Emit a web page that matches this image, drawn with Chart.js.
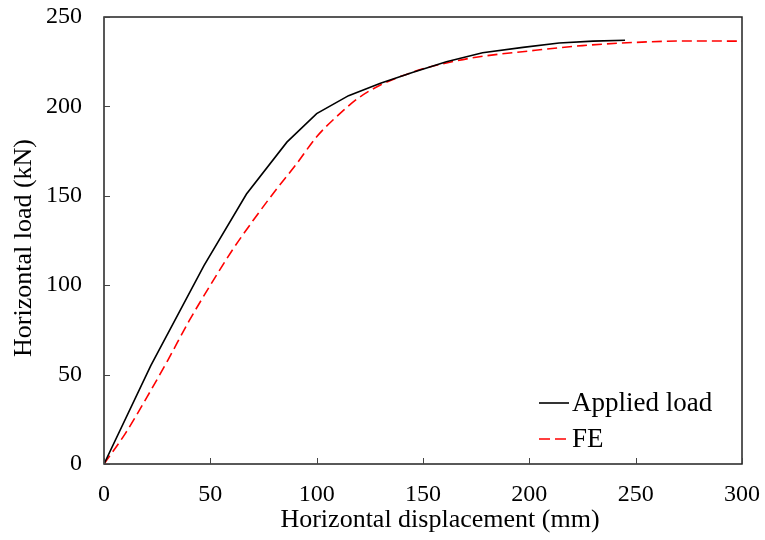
<!DOCTYPE html>
<html>
<head>
<meta charset="utf-8">
<script src="https://cdn.jsdelivr.net/npm/chart.js@4.4.0/dist/chart.umd.min.js"></script>
<style>
  html, body { margin: 0; padding: 0; background: #fff; }
  #wrap { width: 765px; height: 540px; }
</style>
</head>
<body>
<div id="wrap"><canvas id="chart" width="765" height="540"></canvas></div>
<script>
// test curve
const appliedX = [0, 22, 47, 67, 86, 100, 115, 130, 145, 161, 178, 197, 214, 230, 245];
const appliedY = [0, 55, 111, 151, 180, 196, 206, 213, 219, 225, 230, 233, 235.5, 236.5, 237];

// finite element curve
const feX = [0, 10, 20, 30, 40, 50, 60, 70, 80, 90, 100, 110, 120, 130, 140, 150, 160, 175, 200, 225, 250, 275, 300];
const feY = [0, 17, 37, 58, 80, 100, 119, 136, 152, 167, 183, 195, 205, 212, 217, 221, 224, 227.5, 231, 234, 235.8, 236.6, 236.5];

const xTicks = [0, 50, 100, 150, 200, 250, 300];
const yTicks = [0, 50, 100, 150, 200, 250];

const xTitle = 'Horizontal displacement (mm)';
const yTitle = 'Horizontal load (kN)';

const FONT = '"Liberation Serif", "Times New Roman", serif';

const toPoints = (xs, ys) => xs.map((x, i) => ({ x: x, y: ys[i] }));

// box, inward ticks, axis titles and the legend inside the plot
const framePlugin = {
  id: 'frame',
  afterDraw(chart) {
    const ctx = chart.ctx;
    const a = chart.chartArea;
    const xs = chart.scales.x;
    const ys = chart.scales.y;
    ctx.save();
    ctx.strokeStyle = '#222';
    ctx.lineWidth = 1.5;
    ctx.strokeRect(a.left, a.top, a.right - a.left, a.bottom - a.top);
    ctx.lineWidth = 1;
    ctx.strokeStyle = '#444';
    ctx.beginPath();
    xTicks.forEach(v => {
      const px = Math.round(xs.getPixelForValue(v)) + 0.5;
      ctx.moveTo(px, a.bottom);
      ctx.lineTo(px, a.bottom - 6);
    });
    yTicks.forEach(v => {
      const py = Math.round(ys.getPixelForValue(v)) + 0.5;
      ctx.moveTo(a.left, py);
      ctx.lineTo(a.left + 6, py);
    });
    ctx.stroke();

    // axis titles (excel puts them a bit off the plot centre)
    ctx.fillStyle = '#000';
    ctx.font = '26px ' + FONT;
    ctx.textAlign = 'center';
    ctx.textBaseline = 'middle';
    ctx.fillText(xTitle, 440, 520);
    ctx.save();
    ctx.translate(24, 248);
    ctx.rotate(-Math.PI / 2);
    ctx.fillText(yTitle, 0, 0);
    ctx.restore();

    // legend
    const items = [
      { label: 'Applied load', color: '#000', dash: [] },
      { label: 'FE', color: '#ff0000', dash: [11, 5] }
    ];
    ctx.font = '27px ' + FONT;
    ctx.textAlign = 'left';
    items.forEach((it, i) => {
      const y = 403 + i * 36;
      ctx.beginPath();
      ctx.setLineDash(it.dash);
      ctx.strokeStyle = it.color;
      ctx.lineWidth = 1.6;
      ctx.moveTo(539, y);
      ctx.lineTo(569, y);
      ctx.stroke();
      ctx.setLineDash([]);
      ctx.fillText(it.label, 572, y + 1);
    });
    ctx.restore();
  }
};

new Chart(document.getElementById('chart'), {
  type: 'scatter',
  data: {
    datasets: [
      {
        label: 'Applied load',
        data: toPoints(appliedX, appliedY),
        showLine: true,
        borderColor: '#000',
        borderWidth: 1.6,
        pointRadius: 0,
        tension: 0
      },
      {
        label: 'FE',
        data: toPoints(feX, feY),
        showLine: true,
        borderColor: '#ff0000',
        borderWidth: 1.6,
        borderDash: [10, 5],
        pointRadius: 0,
        cubicInterpolationMode: 'monotone'
      }
    ]
  },
  options: {
    responsive: false,
    animation: false,
    layout: { padding: { left: 8, right: 23, top: 17, bottom: 5 } },
    plugins: {
      legend: { display: false },
      tooltip: { enabled: false }
    },
    scales: {
      x: {
        type: 'linear',
        min: 0,
        max: 300,
        afterBuildTicks: s => { s.ticks = xTicks.map(v => ({ value: v })); },
        afterFit: s => {
          s.height = 71;
          s.paddingLeft = 0;
          s.paddingRight = 0;
        },
        grid: { display: false, drawTicks: false },
        border: { display: false },
        ticks: { color: '#000', font: { family: FONT, size: 24 }, padding: 16, maxRotation: 0 },
        title: { display: false }
      },
      y: {
        type: 'linear',
        min: 0,
        max: 250,
        afterBuildTicks: s => { s.ticks = yTicks.map(v => ({ value: v })); },
        afterFit: s => {
          s.width = 96;
          s.paddingTop = 0;
          s.paddingBottom = 0;
        },
        grid: { display: false, drawTicks: false },
        border: { display: false },
        ticks: { color: '#000', font: { family: FONT, size: 24 }, padding: 22 },
        title: { display: false }
      }
    }
  },
  plugins: [framePlugin]
});
</script>
</body>
</html>
